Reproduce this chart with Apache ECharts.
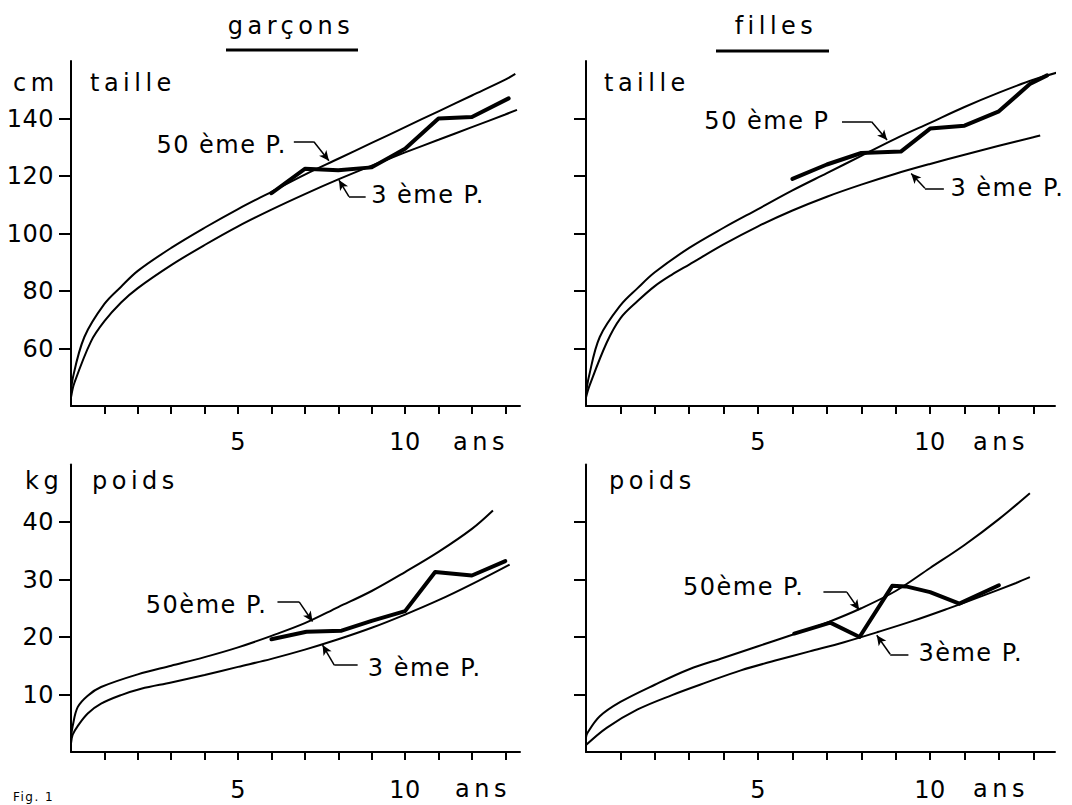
<!DOCTYPE html>
<html>
<head>
<meta charset="utf-8">
<script src="https://cdn.jsdelivr.net/npm/echarts@6/dist/echarts.min.js"></script>
<style>
html,body{margin:0;padding:0;background:#fff;}
#chart{width:1072px;height:805px;}
</style>
</head>
<body>
<div id="chart"></div>
<script>
// ---------------- DATA (age in years, height in cm, weight in kg) ----------------
const ageTickValues = [1,2,3,4,5,6,7,8,9,10,11,12,13];
const ageLabelValues = [5,10];
const heightTickValues = [60,80,100,120,140];
const weightTickValues = [10,20,30,40];

// garçons – taille
const boysHeightP50 = [[0,43],[0.05,49.5],[0.4,64],[1,75.5],[1.5,81.5],[2,87],[3,95],[4,102],[5,108.5],[6,114.5],[7,120.5],[8,126],[9,131.5],[10,137],[11,142.5],[12,148],[13,153.5],[13.3,155.5]];
const boysHeightP3 = [[0,43],[0.1,48],[0.6,62.5],[1,69.5],[1.5,76],[2,81],[3,89],[4,96],[5,102.5],[6,108.3],[7,113.7],[8,118.8],[9,123.6],[10,128.2],[11,132.6],[12,137],[13,141.4],[13.35,143]];
const boysHeightPatient = [[6,114],[7,122.5],[8,122],[9,123],[10,129.5],[11,140],[12,140.5],[13.1,147]];

// filles – taille
const girlsHeightP50 = [[0,44],[0.08,50],[0.4,64],[1,75],[1.5,81],[2,86.5],[3,95],[4,102],[5,108.5],[6,115],[7,121],[8,127],[9,133],[10,138.5],[11,144],[12,149],[13,153.5],[13.85,156.5]];
const girlsHeightP3 = [[0,43],[0.1,47],[0.6,62],[1,70.5],[1.5,76.5],[2,81.7],[2.5,85.7],[3,89.2],[4,96.2],[5,102.5],[6,108],[7,112.8],[8,117],[9,120.8],[10,124.2],[11,127.4],[12,130.5],[13,133.5],[13.2,134.1]];
const girlsHeightPatient = [[6,119],[7,124],[8,128],[9.15,128.5],[10,136.5],[11,137.5],[12,142.5],[12.9,152],[13.4,155]];

// garçons – poids
const boysWeightP50 = [[0,2.5],[0.05,4.5],[0.2,7.8],[0.5,9.8],[0.9,11.3],[2,13.5],[3,15],[4,16.5],[5,18.2],[6,20.2],[7,22.4],[8,25.2],[9,28],[10,31.3],[11,34.8],[12,38.8],[12.63,42]];
const boysWeightP3 = [[0,1.5],[0.05,3],[0.2,4.5],[0.5,6.7],[0.9,8.4],[1.5,9.9],[2.1,11],[3,12.1],[4,13.4],[5,14.8],[6,16.2],[7,17.8],[8,19.6],[9,21.6],[10,23.9],[11,26.4],[12,29.2],[13.13,32.6]];
const boysWeightPatient = [[6,19.6],[7.05,20.9],[8.1,21.1],[9,22.8],[10,24.5],[10.9,31.3],[12,30.7],[13,33.2]];

// filles – poids
const girlsWeightP50 = [[0,2.5],[0.03,3.2],[0.4,6.2],[1,8.7],[2,11.7],[3,14.4],[4,16.4],[5,18.4],[6,20.4],[7,22.5],[8,25],[9,28],[10,32],[11,36],[12,40.5],[12.9,45]];
const girlsWeightP3 = [[0,1.2],[0.6,4.2],[1.5,7.4],[2.5,9.9],[3.5,12.1],[4.5,14.2],[5.5,15.9],[6.5,17.5],[7.5,19.1],[8.5,20.9],[9.5,22.8],[10.5,24.9],[11.5,27.1],[12.5,29.4],[12.9,30.4]];
const girlsWeightPatient = [[6.05,20.6],[7.1,22.5],[7.95,20],[8.9,28.9],[9.3,28.8],[10,27.8],[10.85,25.8],[12,29]];

// annotation anchors (data units)
const notesBoysHeight = {p50Label:'50 ème P.', p50At:[6.57,130.8], p50Leader:[[6.67,131.9],[7.27,131.9],[7.72,125.3]],
                         p3Label:'3 ème P.', p3At:[8.88,113.4], p3Leader:[[8.82,112.8],[8.32,112.8],[8.02,118.6]]};
const notesGirlsHeight = {p50Label:'50 ème P', p50At:[7.18,139.1], p50Leader:[[7.44,138.9],[8.30,138.9],[8.75,132.5]],
                          p3Label:'3 ème P.', p3At:[10.49,115.8], p3Leader:[[10.4,115.7],[9.85,115.7],[9.45,120.9]]};
const notesBoysWeight = {p50Label:'50ème P.', p50At:[5.98,25.6], p50Leader:[[6.18,26.1],[6.83,26.1],[7.23,22.7]],
                         p3Label:'3 ème P.', p3At:[8.78,14.6], p3Leader:[[8.58,15.1],[7.88,15.1],[7.53,18.6]]};
const notesGirlsWeight = {p50Label:'50ème P.', p50At:[6.45,28.7], p50Leader:[[6.9,27.8],[7.58,27.8],[7.94,24.7]],
                          p3Label:'3ème P.', p3At:[9.56,17.2], p3Leader:[[9.37,17.0],[8.84,17.0],[8.45,20.3]]};

// ---------------- STYLE / LAYOUT ----------------
const FONT = 'DejaVu Sans';
const INK = '#000';
const grids = [
  {left:71,  top:61,    width:449, height:345},
  {left:586, top:61,    width:469, height:345},
  {left:71,  top:464.5, width:449, height:287.5},
  {left:586, top:464.5, width:469, height:287.5}
];
const xMax = [13.44, 13.63, 13.44, 13.63];

function xAxisCfg(i, margin){
  return {
    type:'value', gridIndex:i, min:0, max:xMax[i],
    axisLine:{show:true, onZero:false, lineStyle:{color:INK, width:2}},
    axisTick:{show:true, inside:false, length:8, customValues:ageTickValues, lineStyle:{color:INK, width:2}},
    axisLabel:{show:true, customValues:ageLabelValues, color:INK, fontSize:24, fontFamily:FONT, margin:margin, verticalAlign:'middle'},
    splitLine:{show:false}
  };
}
function yAxisCfg(i, min, max, ticks, showLabels){
  return {
    type:'value', gridIndex:i, min:min, max:max,
    axisLine:{show:true, onZero:false, lineStyle:{color:INK, width:2}},
    axisTick:{show:true, inside:false, length:12, customValues:ticks, lineStyle:{color:INK, width:2}},
    axisLabel:{show:showLabels, customValues:ticks, color:INK, fontSize:24, fontFamily:FONT, margin:17},
    splitLine:{show:false}
  };
}

function leaderSegments(pts){
  const segs = [];
  for (let k = 0; k < pts.length - 1; k++) {
    const last = (k === pts.length - 2);
    segs.push([
      {coord:pts[k], symbol:'none'},
      {coord:pts[k+1], symbol: last ? 'arrow' : 'none', symbolSize: last ? [7,10] : 0}
    ]);
  }
  return segs;
}

function panelSeries(i, p50, p3, patient, notes){
  const thin = {color:INK, width:2};
  return [
    {type:'line', name:'50ème P.', xAxisIndex:i, yAxisIndex:i, data:p50, smooth:0.35,
     showSymbol:false, symbol:'none', lineStyle:thin, silent:true,
     markLine:{silent:true, symbol:['none','none'], label:{show:false}, lineStyle:{color:INK, width:1.5, type:'solid'},
               emphasis:{disabled:true},
               data: leaderSegments(notes.p50Leader).concat(leaderSegments(notes.p3Leader))},
     markPoint:{silent:true, symbol:'circle', symbolSize:1, itemStyle:{color:'rgba(0,0,0,0)'},
               label:{show:true, formatter:'{b}', color:INK, fontSize:24, fontFamily:FONT, distance:3},
               data:[
                 {name:notes.p50Label, coord:notes.p50At, label:{position:'left'}},
                 {name:notes.p3Label, coord:notes.p3At, label:{position:'right'}}
               ]}
    },
    {type:'line', name:'3ème P.', xAxisIndex:i, yAxisIndex:i, data:p3, smooth:0.35,
     showSymbol:false, symbol:'none', lineStyle:thin, silent:true},
    {type:'line', name:'patient', xAxisIndex:i, yAxisIndex:i, data:patient, smooth:false,
     showSymbol:false, symbol:'none', lineStyle:{color:INK, width:4, join:'round', cap:'round'}, silent:true}
  ];
}

function txt(x, y, s, align, size){
  return {type:'text', x:x, y:y, silent:true,
          style:{text:s, align:align || 'left', verticalAlign:'middle', fontSize:size || 24, fontFamily:FONT, fill:INK}};
}

const option = {
  backgroundColor:'#fff',
  animation:false,
  grid: grids,
  xAxis:[xAxisCfg(0,36), xAxisCfg(1,36), xAxisCfg(2,37.5), xAxisCfg(3,37.5)],
  yAxis:[yAxisCfg(0,40,160,heightTickValues,true), yAxisCfg(1,40,160,heightTickValues,false),
         yAxisCfg(2,0,50,weightTickValues,true), yAxisCfg(3,0,50,weightTickValues,false)],
  series: [].concat(
    panelSeries(0, boysHeightP50, boysHeightP3, boysHeightPatient, notesBoysHeight),
    panelSeries(1, girlsHeightP50, girlsHeightP3, girlsHeightPatient, notesGirlsHeight),
    panelSeries(2, boysWeightP50, boysWeightP3, boysWeightPatient, notesBoysWeight),
    panelSeries(3, girlsWeightP50, girlsWeightP3, girlsWeightPatient, notesGirlsWeight)
  ),
  graphic: [
    txt(291, 26, 'garçons', 'center'),
    {type:'line', silent:true, shape:{x1:226, y1:50, x2:358, y2:50}, style:{stroke:INK, lineWidth:3}},
    txt(776, 26, 'filles', 'center'),
    {type:'line', silent:true, shape:{x1:716, y1:51, x2:829, y2:51}, style:{stroke:INK, lineWidth:3}},
    txt(13, 83, 'cm'), txt(90, 83, 'taille'), txt(604, 83, 'taille'),
    txt(25, 481, 'kg'), txt(92, 481, 'poids'), txt(609, 481, 'poids'),
    txt(453, 442, 'ans'), txt(973, 442, 'ans'),
    txt(455, 789, 'ans'), txt(973, 789, 'ans'),
    txt(13, 797, 'Fig. 1', 'left', 12)
  ]
};

const chart = echarts.init(document.getElementById('chart'), null, {renderer:'svg', width:1072, height:805});
chart.setOption(option);

const WIDE = ['garçons','filles','taille','poids','cm','kg','ans'];
function applySpacing(){
  document.querySelectorAll('#chart svg text').forEach(function(t){
    const s = (t.textContent || '').trim();
    t.style.letterSpacing = WIDE.indexOf(s) >= 0 ? '4.5px' : (/^\d+$/.test(s) ? '0.5px' : '1.5px');
  });
}
applySpacing();
chart.on('finished', applySpacing);
</script>
</body>
</html>
